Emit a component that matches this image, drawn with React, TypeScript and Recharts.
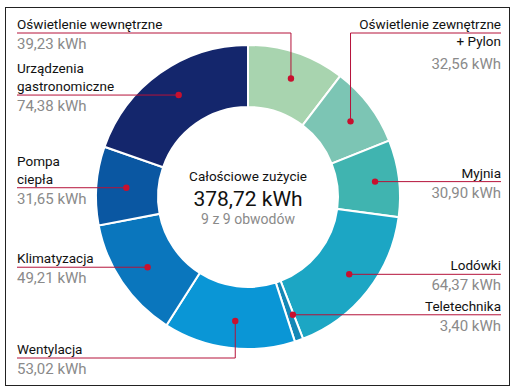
import { PieChart, Pie, Cell } from "recharts"

const circuits = [
  "Oświetlenie wewnętrzne",
  "Oświetlenie zewnętrzne + Pylon",
  "Myjnia",
  "Lodówki",
  "Teletechnika",
  "Wentylacja",
  "Klimatyzacja",
  "Pompa ciepła",
  "Urządzenia gastronomiczne",
]
const usageKwh = [39.23, 32.56, 30.9, 64.37, 3.4, 53.02, 49.21, 31.65, 74.38]
const sliceColors = [
  "#a8d4af",
  "#7cc5b4",
  "#40b4b0",
  "#1ca6c4",
  "#1487b6",
  "#0a96d6",
  "#0a76bd",
  "#0a57a2",
  "#14266c",
]

// how each label sits: side, title lines above the rule, lines below it, elbow or straight rule
const labelLayout = [
  { side: "left", above: ["Oświetlenie wewnętrzne"], below: [], lineY: 33 },
  { side: "right", above: ["Oświetlenie zewnętrzne"], below: ["+ Pylon"], lineY: 33 },
  { side: "right", above: ["Myjnia"], below: [] },
  { side: "right", above: ["Lodówki"], below: [] },
  { side: "right", above: ["Teletechnika"], below: [] },
  { side: "left", above: ["Wentylacja"], below: [], lineY: 358 },
  { side: "left", above: ["Klimatyzacja"], below: [] },
  { side: "left", above: ["Pompa", "ciepła"], below: [] },
  { side: "left", above: ["Urządzenia", "gastronomiczne"], below: [] },
]

const data = circuits.map((name, i) => ({ name, value: usageKwh[i] }))
const total = usageKwh.reduce((a, b) => a + b, 0)

const FONT = "Roboto, 'Liberation Sans', Arial, sans-serif"
const RED = "#b5123a"
const DOT = "#c8102e"
const LEFT_X = 17
const RIGHT_X = 501
const RAD = Math.PI / 180

const fmt = (v: number) => v.toFixed(2).replace(".", ",") + " kWh"

function renderLabel(props: any) {
  const { cx, cy, midAngle, innerRadius, outerRadius, index, value } = props
  const r = (innerRadius + outerRadius) / 2 + 4
  const dx = cx + 3 + r * Math.cos(-midAngle * RAD)
  const dy = cy + r * Math.sin(-midAngle * RAD)
  const lay = labelLayout[index]
  const lineY = lay.lineY ?? dy
  const isLeft = lay.side === "left"
  const tx = isLeft ? LEFT_X : RIGHT_X
  const anchor = isLeft ? "start" : "end"
  const n = lay.above.length
  const valueY = lineY + 16 + lay.below.length * 20

  return (
    <g key={`lbl-${index}`}>
      {index === 0 && (
        <g fontFamily={FONT} textAnchor="middle">
          <text x={cx} y={cy - 16} fontSize={13.5} fill="#111">Całościowe zużycie</text>
          <text x={cx} y={cy + 9} fontSize={21} fill="#111">{fmt(total)}</text>
          <text x={cx} y={cy + 27} fontSize={14} fill="#8a8a8a">{`${usageKwh.length} z ${usageKwh.length} obwodów`}</text>
        </g>
      )}
      <polyline
        points={`${tx},${lineY} ${dx},${lineY} ${dx},${dy}`}
        fill="none"
        stroke={RED}
        strokeWidth={1}
      />
      <circle cx={dx} cy={dy} r={3.2} fill={DOT} />
      {lay.above.map((t, k) => (
        <text key={`a${k}`} x={tx} y={lineY - 4 - (n - 1 - k) * 18} textAnchor={anchor} fontFamily={FONT} fontSize={13.5} fill="#111">
          {t}
        </text>
      ))}
      {lay.below.map((t, k) => (
        <text key={`b${k}`} x={tx} y={lineY + 13 + k * 20} textAnchor={anchor} fontFamily={FONT} fontSize={13.5} fill="#111">
          {t}
        </text>
      ))}
      <text x={tx} y={valueY} textAnchor={anchor} fontFamily={FONT} fontSize={15} fill="#8a8a8a">
        {fmt(value)}
      </text>
    </g>
  )
}

export default function App() {
  return (
    <div style={{ position: "absolute", left: 0, top: 0, width: 516, height: 388, background: "#fff" }}>
      <div
        style={{
          position: "absolute",
          left: 5,
          top: 7,
          width: 503,
          height: 377,
          border: "1.5px solid #222",
        }}
      />
      <PieChart
        width={516}
        height={388}
        margin={{ top: 0, right: 0, bottom: 0, left: 0 }}
        style={{ position: "absolute", left: 0, top: 0 }}
      >
        <Pie
          data={data}
          dataKey="value"
          nameKey="name"
          cx={248}
          cy={197}
          innerRadius={90}
          outerRadius={152}
          startAngle={90}
          endAngle={-270}
          stroke="#fff"
          strokeWidth={2}
          label={renderLabel}
          labelLine={false}
          isAnimationActive={false}
        >
          {data.map((d, i) => (
            <Cell key={d.name} fill={sliceColors[i]} />
          ))}
        </Pie>
      </PieChart>
    </div>
  )
}
